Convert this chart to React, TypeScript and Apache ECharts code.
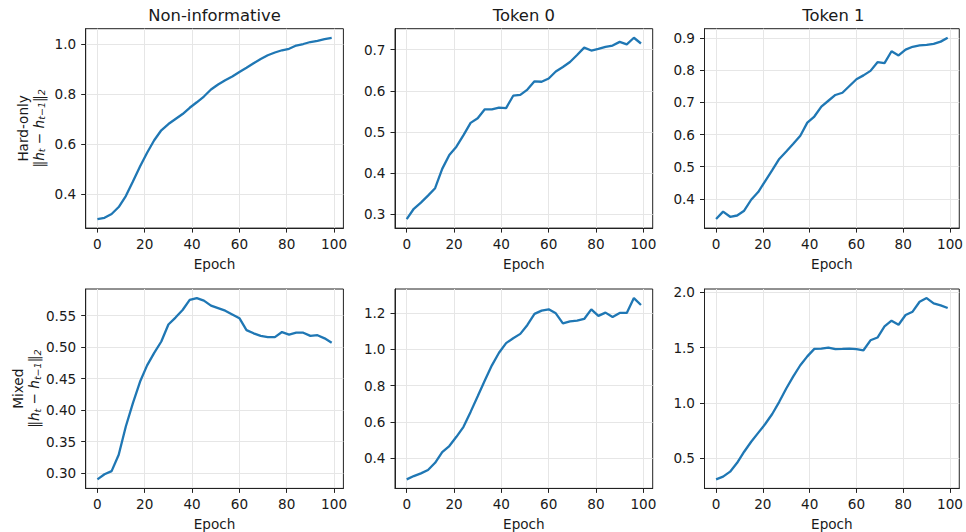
import React, { useEffect, useRef } from "react";
import * as echarts from "echarts";

const EPOCHS = [0, 3, 6, 9, 12, 15, 18, 21, 24, 27, 30, 33, 36, 39, 42, 45, 48, 51, 54, 57, 60, 63, 66, 69, 72, 75, 78, 81, 84, 87, 90, 93, 96, 99];

const COL_TITLES = ["Non-informative", "Token 0", "Token 1"];
const ROW_LABELS = ["Hard-only", "Mixed"];

const HARD_NONINF = [0.300, 0.305, 0.320, 0.348, 0.392, 0.450, 0.510, 0.565, 0.615, 0.655, 0.680, 0.700, 0.720, 0.745, 0.767, 0.790, 0.818, 0.838, 0.855, 0.870, 0.888, 0.905, 0.923, 0.940, 0.955, 0.966, 0.975, 0.981, 0.994, 1.000, 1.008, 1.013, 1.020, 1.025];
const HARD_TOK0 = [0.288, 0.313, 0.328, 0.345, 0.363, 0.410, 0.444, 0.464, 0.492, 0.522, 0.533, 0.555, 0.555, 0.559, 0.558, 0.588, 0.590, 0.603, 0.623, 0.622, 0.630, 0.647, 0.658, 0.670, 0.687, 0.705, 0.698, 0.702, 0.707, 0.710, 0.719, 0.713, 0.729, 0.715];
const HARD_TOK1 = [0.337, 0.360, 0.344, 0.348, 0.363, 0.397, 0.421, 0.455, 0.489, 0.524, 0.547, 0.571, 0.596, 0.637, 0.656, 0.687, 0.705, 0.723, 0.730, 0.751, 0.772, 0.784, 0.798, 0.825, 0.822, 0.859, 0.846, 0.864, 0.873, 0.877, 0.879, 0.882, 0.889, 0.901];
const MIXED_NONINF = [0.290, 0.298, 0.303, 0.329, 0.374, 0.411, 0.445, 0.471, 0.491, 0.509, 0.536, 0.547, 0.559, 0.575, 0.578, 0.574, 0.566, 0.562, 0.558, 0.552, 0.546, 0.527, 0.522, 0.518, 0.516, 0.516, 0.524, 0.520, 0.523, 0.523, 0.518, 0.519, 0.514, 0.507];
const MIXED_TOK0 = [0.285, 0.303, 0.318, 0.336, 0.376, 0.435, 0.468, 0.519, 0.574, 0.656, 0.742, 0.829, 0.912, 0.981, 1.034, 1.061, 1.085, 1.134, 1.195, 1.213, 1.220, 1.198, 1.143, 1.154, 1.158, 1.167, 1.220, 1.184, 1.202, 1.178, 1.200, 1.200, 1.282, 1.244];
const MIXED_TOK1 = [0.311, 0.335, 0.380, 0.460, 0.560, 0.650, 0.730, 0.810, 0.900, 1.010, 1.130, 1.240, 1.340, 1.420, 1.488, 1.490, 1.500, 1.485, 1.487, 1.490, 1.485, 1.475, 1.565, 1.590, 1.690, 1.742, 1.705, 1.793, 1.823, 1.913, 1.946, 1.898, 1.880, 1.856];

const X_TICKS = [0, 20, 40, 60, 80, 100];
const Y_TICKS_HARD_NONINF = [0.4, 0.6, 0.8, 1.0];
const Y_TICKS_HARD_TOK0 = [0.3, 0.4, 0.5, 0.6, 0.7];
const Y_TICKS_HARD_TOK1 = [0.4, 0.5, 0.6, 0.7, 0.8, 0.9];
const Y_TICKS_MIXED_NONINF = [0.30, 0.35, 0.40, 0.45, 0.50, 0.55];
const Y_TICKS_MIXED_TOK0 = [0.4, 0.6, 0.8, 1.0, 1.2];
const Y_TICKS_MIXED_TOK1 = [0.5, 1.0, 1.5, 2.0];

const PANELS = [
  { values: HARD_NONINF, ticks: Y_TICKS_HARD_NONINF, dec: 1 },
  { values: HARD_TOK0, ticks: Y_TICKS_HARD_TOK0, dec: 1 },
  { values: HARD_TOK1, ticks: Y_TICKS_HARD_TOK1, dec: 1 },
  { values: MIXED_NONINF, ticks: Y_TICKS_MIXED_NONINF, dec: 2 },
  { values: MIXED_TOK0, ticks: Y_TICKS_MIXED_TOK0, dec: 1 },
  { values: MIXED_TOK1, ticks: Y_TICKS_MIXED_TOK1, dec: 1 },
];

const FONT = "'DejaVu Sans', sans-serif";
const TEXT_COLOR = "#1a1a1a";
const LINE_COLOR = "#1f77b4";
const TICK_FS = 13.6;
const TITLE_FS = 16.4;

const COL_LEFT = [85.7, 395, 704.5];
const ROW_TOP = [28.7, 289];
const W = 257.7;
const H = 199.4;

export default function App() {
  const ref = useRef<HTMLDivElement>(null);

  useEffect(() => {
    if (!ref.current) return;
    const chart = echarts.init(ref.current, null, { renderer: "svg" });

    const xmin = EPOCHS[0] - 0.05 * (EPOCHS[EPOCHS.length - 1] - EPOCHS[0]);
    const xmax = EPOCHS[EPOCHS.length - 1] + 0.05 * (EPOCHS[EPOCHS.length - 1] - EPOCHS[0]);

    const grids: any[] = [];
    const xAxes: any[] = [];
    const yAxes: any[] = [];
    const series: any[] = [];
    const graphics: any[] = [];

    PANELS.forEach((p, i) => {
      const r = Math.floor(i / 3);
      const c = i % 3;
      grids.push({
        left: COL_LEFT[c],
        top: ROW_TOP[r],
        width: W,
        height: H,
        show: true,
        borderColor: "#222",
        borderWidth: 1,
        backgroundColor: "transparent",
        containLabel: false,
      });
      xAxes.push({
        type: "value",
        gridIndex: i,
        min: xmin,
        max: xmax,
        name: "Epoch",
        nameLocation: "middle",
        nameGap: 28.5,
        nameTextStyle: { fontFamily: FONT, fontSize: TICK_FS, color: TEXT_COLOR },
        axisLine: { show: true, onZero: false, lineStyle: { color: "#222", width: 1 } },
        axisTick: { show: true, length: 4.5, customValues: X_TICKS, lineStyle: { color: "#222", width: 1 } },
        axisLabel: {
          customValues: X_TICKS,
          margin: 8.5,
          fontFamily: FONT,
          fontSize: TICK_FS,
          color: TEXT_COLOR,
          formatter: (v: number) => String(Math.round(v)),
        },
        splitLine: { show: true, lineStyle: { color: "#e6e6e6", width: 1 } },
      });
      const vmin = Math.min(...p.values);
      const vmax = Math.max(...p.values);
      const span = vmax - vmin;
      const yAxis: any = {
        type: "value",
        gridIndex: i,
        min: vmin - 0.05 * span,
        max: vmax + 0.05 * span,
        axisLine: { show: true, onZero: false, lineStyle: { color: "#222", width: 1 } },
        axisTick: { show: true, length: 4.5, customValues: p.ticks, lineStyle: { color: "#222", width: 1 } },
        axisLabel: {
          customValues: p.ticks,
          margin: 9.5,
          fontFamily: FONT,
          fontSize: TICK_FS,
          color: TEXT_COLOR,
          formatter: (v: number) => v.toFixed(p.dec),
        },
        splitLine: { show: true, lineStyle: { color: "#e6e6e6", width: 1 } },
      };
      if (c === 0) {
        yAxis.name = `{a|${ROW_LABELS[r]}}\n{b|‖}{i|h}{s|t}{b| − }{i|h}{s|t−1}{b|‖}{s|2}`;
        yAxis.nameLocation = "middle";
        yAxis.nameRotate = 90;
        yAxis.nameGap = 39;
        const lh = 16;
        yAxis.nameTextStyle = {
          fontFamily: FONT,
          fontSize: TICK_FS,
          color: TEXT_COLOR,
          lineHeight: lh,
          rich: {
            a: { fontFamily: FONT, fontSize: TICK_FS, color: TEXT_COLOR, lineHeight: lh },
            b: { fontFamily: FONT, fontSize: TICK_FS, color: TEXT_COLOR, lineHeight: lh },
            i: { fontFamily: FONT, fontSize: TICK_FS, fontStyle: "italic", color: TEXT_COLOR, lineHeight: lh },
            s: { fontFamily: FONT, fontSize: 9.5, fontStyle: "italic", color: TEXT_COLOR, lineHeight: lh, verticalAlign: "bottom" },
          },
        };
      }
      yAxes.push(yAxis);
      series.push({
        type: "line",
        xAxisIndex: i,
        yAxisIndex: i,
        data: EPOCHS.map((e, k) => [e, p.values[k]]),
        showSymbol: false,
        symbol: "none",
        lineStyle: { color: LINE_COLOR, width: 2.3 },
        itemStyle: { color: LINE_COLOR },
        silent: true,
      });
    });

    COL_TITLES.forEach((t, c) => {
      graphics.push({
        type: "text",
        x: COL_LEFT[c] + W / 2,
        y: 15.5,
        style: {
          text: t,
          fontFamily: FONT,
          fontSize: TITLE_FS,
          fill: TEXT_COLOR,
          textAlign: "center",
          textVerticalAlign: "middle",
        },
      });
    });

    chart.setOption({
      animation: false,
      backgroundColor: "#ffffff",
      grid: grids,
      xAxis: xAxes,
      yAxis: yAxes,
      series,
      graphic: graphics,
    });

    return () => chart.dispose();
  }, []);

  return (
    <div
      ref={ref}
      style={{ position: "fixed", left: 0, top: 0, width: 966, height: 532, background: "#fff" }}
    />
  );
}
